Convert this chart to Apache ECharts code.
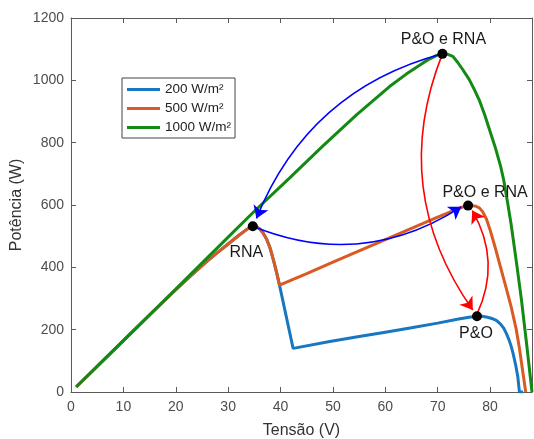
<!DOCTYPE html>
<html>
<head>
<meta charset="utf-8">
<script src="https://cdn.jsdelivr.net/npm/echarts@6/dist/echarts.min.js"></script>
<style>html,body{margin:0;padding:0;background:#fff}#c{width:534px;height:439px}</style>
</head>
<body>
<div id="c"></div>
<script>
// ---- data ----
const xTicks = {min: 0, max: 88, interval: 10};
const yTicks = {min: 0, max: 1200, interval: 200};
const seriesNames = ['200 W/m²', '500 W/m²', '1000 W/m²'];

const v200 = [1, 10, 15, 20, 23, 26, 28, 30, 32, 33.5, 34.2, 34.7, 35.3, 36, 36.6, 37.3, 38, 38.7, 39.3, 39.8, 42.4, 49.4, 55, 60, 65, 70, 74, 76, 77.5, 78.5, 79.5, 80.5, 81.2, 82, 82.6, 83.1, 83.6, 84, 84.4, 84.9, 85.3, 85.6, 86.3];
const p200 = [16, 165, 247, 328, 375, 420, 448, 475, 502, 521, 529, 532, 531, 524, 512, 492, 462, 420, 380, 343, 140, 162, 178, 192, 206, 221, 234, 240, 243, 243, 240, 235, 230, 218, 205, 188, 168, 148, 123, 85, 48, 0, 0];

const v500 = [1, 10, 15, 20, 23, 26, 28, 30, 32, 33.5, 34.2, 34.7, 35.3, 36, 36.6, 37.3, 38, 38.7, 39.3, 39.8, 45, 50, 55, 60, 65, 70, 73, 74.5, 75.2, 75.8, 76.6, 77.3, 78, 78.6, 79.3, 80, 81, 82, 83, 84, 85, 85.6, 86.2, 86.8];
const p500 = [16, 165, 247, 328, 375, 420, 448, 475, 502, 521, 529, 532, 531, 524, 512, 492, 462, 420, 380, 343, 380, 417, 453, 489, 525, 561, 582, 592, 596, 598, 598, 596, 590, 578, 555, 520, 462, 400, 338, 275, 200, 140, 70, 0];

const v1000 = [1, 10, 20, 30, 35, 41.7, 48, 54.5, 60.8, 64, 67.2, 68.5, 69.8, 70.9, 71.8, 72.9, 73.8, 74.8, 76, 77, 78, 79, 80, 81, 82, 82.6, 83.3, 84, 85, 86, 87, 88];
const p1000 = [17, 165, 330, 497, 580, 686, 788, 889, 980, 1020, 1056, 1069, 1080, 1085, 1084, 1077, 1058, 1034, 1003, 970, 934, 888, 836, 784, 725, 680, 612, 540, 420, 294, 150, 0];

// operating points
const dotV = [70.9, 75.8, 34.7, 77.5];
const dotP = [1085, 598, 532, 243];
const dotLabels = ['P&O e RNA', 'P&O e RNA', 'RNA', 'P&O'];

// arrows: start [V, P] -> end [V, P]
const arrowFrom = [[70.9, 1085], [34.7, 532], [70.9, 1085], [77.5, 250]];
const arrowTo   = [[35.4, 557], [74.5, 594], [76.7, 263], [76.6, 582]];
const arrowColors = ['#0000ff', '#0000ff', '#ff0000', '#ff0000'];

// ---- styling ----
const FONT = 'Liberation Sans, Arial, Helvetica, sans-serif';
const lineColors = ['#1777c0', '#d95a22', '#138a13'];
const axisColor = '#5a5a5a';
const labelOffsets = [[1, -14], [17, -13], [-6.5, 26.5], [-1, 17]];
const curv = [-0.25, -0.26, -0.27, -0.26];

function zip(a, b) { return a.map((x, i) => [x, b[i]]); }

const chart = echarts.init(document.getElementById('c'), null, {renderer: 'canvas'});

const baseAxis = {
  type: 'value',
  splitLine: {show: false},
  axisLine: {show: true, onZero: false, lineStyle: {color: axisColor, width: 1}},
  axisTick: {show: true, inside: true, length: 5, lineStyle: {color: axisColor}},
};

const option = {
  animation: false,
  backgroundColor: '#fff',
  grid: {left: 71, right: 2, top: 18, bottom: 47, containLabel: false, outerBoundsMode: 'none'},
  legend: {
    orient: 'vertical', left: 122, top: 78,
    data: seriesNames,
    icon: 'rect', itemWidth: 33, itemHeight: 3, itemGap: 4,
    padding: [4, 4, 3, 5],
    borderColor: '#444', borderWidth: 1, backgroundColor: '#fff',
    textStyle: {fontFamily: FONT, fontSize: 13.5, color: '#222', lineHeight: 15},
    selectedMode: false
  },
  xAxis: [
    Object.assign({}, baseAxis, {
      min: xTicks.min, max: xTicks.max, interval: xTicks.interval, position: 'bottom',
      axisLabel: {color: '#4d4d4d', fontSize: 14, fontFamily: FONT, margin: 8, showMaxLabel: false},
      name: 'Tensão (V)', nameLocation: 'middle', nameGap: 31, nameMoveOverlap: false,
      nameTextStyle: {fontFamily: FONT, fontSize: 16, color: '#333'}
    }),
    Object.assign({}, baseAxis, {
      min: xTicks.min, max: xTicks.max, interval: xTicks.interval, position: 'top',
      axisLabel: {show: false}
    })
  ],
  yAxis: [
    Object.assign({}, baseAxis, {
      min: yTicks.min, max: yTicks.max, interval: yTicks.interval, position: 'left',
      axisLabel: {color: '#4d4d4d', fontSize: 14, fontFamily: FONT, margin: 7, formatter: v => String(v)},
      name: 'Potência (W)', nameLocation: 'middle', nameGap: 46, nameMoveOverlap: false,
      nameTextStyle: {fontFamily: FONT, fontSize: 16, color: '#333'}
    }),
    Object.assign({}, baseAxis, {
      min: yTicks.min, max: yTicks.max, interval: yTicks.interval, position: 'right',
      axisLabel: {show: false}
    })
  ],
  series: [
    {name: seriesNames[0], type: 'line', data: zip(v200, p200), showSymbol: false, symbol: 'none',
     lineStyle: {color: lineColors[0], width: 3}, itemStyle: {color: lineColors[0]}, z: 2},
    {name: seriesNames[1], type: 'line', data: zip(v500, p500), showSymbol: false, symbol: 'none',
     lineStyle: {color: lineColors[1], width: 3}, itemStyle: {color: lineColors[1]}, z: 3},
    {name: seriesNames[2], type: 'line', data: zip(v1000, p1000), showSymbol: false, symbol: 'none',
     lineStyle: {color: lineColors[2], width: 3}, itemStyle: {color: lineColors[2]}, z: 4},
    {
      name: 'arrows', type: 'lines', coordinateSystem: 'cartesian2d', z: 5,
      symbol: ['none', 'arrow'], symbolSize: 12,
      data: arrowFrom.map((f, i) => ({
        coords: [f, arrowTo[i]],
        lineStyle: {color: arrowColors[i], width: 1.6, curveness: curv[i], opacity: 1}
      })),
      lineStyle: {width: 1.6, opacity: 1}
    },
    {
      name: 'pontos', type: 'scatter', z: 6, symbolSize: 10,
      itemStyle: {color: '#000', opacity: 1},
      data: dotV.map((v, i) => ({
        value: [v, dotP[i]],
        label: {show: true, position: 'inside', formatter: dotLabels[i], offset: labelOffsets[i],
                fontFamily: FONT, fontSize: 16, color: '#1a1a1a'}
      }))
    }
  ]
};
chart.setOption(option);
</script>
</body>
</html>
